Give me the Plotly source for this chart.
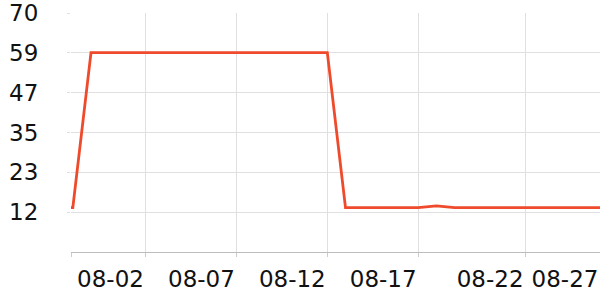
import plotly.graph_objects as go

# day index (0 = first daily sample), plus one early sample just before it
x_idx = [-0.1] + list(range(30))
values = [13, 13] + [58.4] * 14 + [13] * 5 + [13.5] + [13] * 9

tick_pos = [-0.1, 4, 9, 14, 19, 24.88, 29]
tick_txt = ["", "08-02", "08-07", "08-12", "08-17", "08-22", "08-27"]

y_tickvals = [70 / 6 * k for k in range(1, 7)]
y_ticktext = ["12", "23", "35", "47", "59", "70"]

fig = go.Figure()
fig.add_trace(go.Scatter(
    x=x_idx, y=values, mode="lines",
    line=dict(color="#ee4a2b", width=2.8),
    hoverinfo="skip", showlegend=False,
))

font = dict(family="DejaVu Sans", size=23, color="#111111")

fig.update_layout(
    width=600, height=300,
    margin=dict(l=71, r=0, t=10, b=48),
    paper_bgcolor="white", plot_bgcolor="white",
    font=font,
    xaxis=dict(
        range=[-0.1, 29], tickmode="array", tickvals=tick_pos, ticktext=tick_txt,
        showgrid=True, gridcolor="#e0e0e0", gridwidth=1,
        showline=True, linecolor="#bdbdbd", linewidth=1,
        ticks="outside", ticklen=4, tickcolor="#cccccc",
        ticklabelshift=-35, ticklabelstandoff=2, ticklabeloverflow="allow",
        zeroline=False, tickfont=font,
    ),
    yaxis=dict(
        range=[0, 70.02], tickmode="array", tickvals=y_tickvals, ticktext=y_ticktext,
        showgrid=True, gridcolor="#e0e0e0", gridwidth=1,
        showline=False, zeroline=False,
        ticks="outside", ticklen=3, tickcolor="#e0e0e0",
        ticklabelstandoff=24, ticklabeloverflow="allow", tickfont=font,
    ),
)

fig.write_html("out.html")
